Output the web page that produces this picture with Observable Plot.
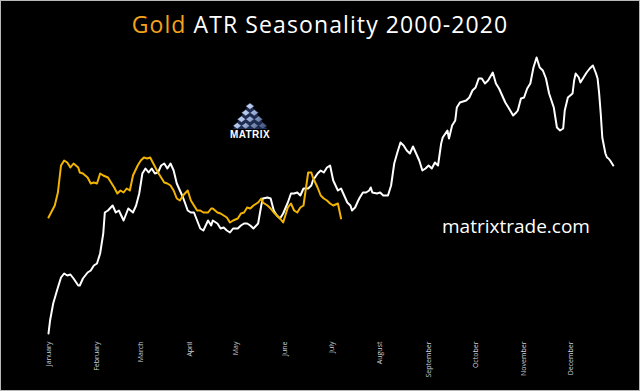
<!DOCTYPE html>
<html>
<head>
<meta charset="utf-8">
<script src="https://cdn.jsdelivr.net/npm/d3@7"></script>
<script src="https://cdn.jsdelivr.net/npm/@observablehq/plot@0.6"></script>
<style>
  html, body { margin: 0; padding: 0; background: #000; }
  #wrap { position: relative; width: 640px; height: 391px; background: #000; overflow: hidden; }
  #title { height: 50px; box-sizing: border-box; padding-top: 2px; line-height: 44px; text-align: center;
           font-family: "Open Sans", sans-serif; font-size: 23px; letter-spacing: 1.1px; color: #fff; white-space: nowrap; }
  #title .gold { color: #f5a21c; }
  #plot svg { display: block; }
  #overlay { position: absolute; left: 0; top: 0; pointer-events: none; }
  #frame { position: absolute; left: 0; top: 0; width: 640px; height: 391px; box-sizing: border-box;
           border: 1px solid #b8b8b8; pointer-events: none; }
</style>
</head>
<body>
<div id="wrap">
  <div id="title"><span class="gold">Gold</span> ATR Seasonality 2000-2020</div>
  <div id="plot"></div>
  <svg id="overlay" width="640" height="391" viewBox="0 0 640 391">
    <defs>
      <linearGradient id="pyr" x1="233" y1="103" x2="267" y2="129" gradientUnits="userSpaceOnUse">
        <stop offset="0" stop-color="#f2f6ff"/>
        <stop offset="0.45" stop-color="#a9bfe6"/>
        <stop offset="1" stop-color="#34466f"/>
      </linearGradient>
    </defs>
    <g id="logo"></g>
    <text x="250" y="138" text-anchor="middle" fill="#fff" font-family="Liberation Sans, Arial, sans-serif"
          font-weight="bold" font-size="10" letter-spacing="0.4">MATRIX</text>
    <text x="516" y="233" text-anchor="middle" fill="#fff" font-family="Open Sans, sans-serif" font-size="19">matrixtrade.com</text>
  </svg>
  <div id="frame"></div>
</div>
<script>
// Month labels and the day of year each month starts
const monthNames = ["January","February","March","April","May","June","July","August","September","October","November","December"];
const monthStartDay = [0,31,59,90,120,151,181,212,243,273,304,334];

// Average ATR seasonality 2000-2020 (white line): day of year and index value
const allDays = [0,1,3,6,8,10,12,14,16,19,20,22,25,27,29,31,33,35,36,38,41,43,45,48,51,54,56,58,60,62,64,66,68,70,72,74,76,78,80,82,84,86,89,91,93,95,97,99,102,104,105,108,110,112,114,116,118,121,123,125,127,129,131,134,136,137,140,142,144,146,148,150,153,155,157,159,161,163,166,168,169,172,174,176,178,180,182,185,187,189,191,193,194,196,198,199,201,203,205,206,207,210,212,214,217,219,221,223,225,227,229,231,233,235,237,239,241,243,245,247,249,251,252,255,256,258,260,261,263,267,269,271,273,275,277,279,281,284,286,288,290,292,294,297,299,300,302,304,306,308,310,312,314,316,318,320,323,325,327,329,330,332,335,336,337,339,340,342,344,346,348,350,351,352,353,354,356,357,358,359,361];
const allValues = [12,25,42,58,68,72,70,71,67,60,60,67,73,75,80,82,92,112,133,135,140,133,135,125,137,133,140,152,172,177,173,177,172,173,180,182,177,182,175,162,155,148,135,133,133,125,117,115,125,120,125,122,117,118,115,113,117,117,120,122,122,120,117,122,140,147,148,147,135,130,127,132,143,152,152,153,150,157,157,160,165,172,175,173,178,180,165,155,157,150,143,140,135,138,145,148,153,153,155,158,153,152,153,150,150,160,182,193,203,200,195,192,199,192,185,175,177,180,177,183,180,202,208,215,207,220,225,238,243,245,248,255,258,267,267,262,265,273,262,257,250,243,238,230,233,235,247,248,257,262,278,288,278,275,267,252,238,218,215,217,235,248,252,265,272,268,263,268,273,277,280,272,267,252,232,208,192,188,187,185,180];

// Current year ATR (orange line): day of year and index value
const curDays = [0,3,4,6,8,10,12,14,16,19,20,22,25,27,29,31,33,35,38,40,42,44,46,48,50,52,54,57,59,61,63,65,67,70,72,74,76,78,80,82,84,86,89,91,93,95,97,99,102,104,105,108,110,112,114,116,118,121,123,125,127,129,131,134,136,137,140,142,144,146,148,150,153,155,157,159,161,163,166,168,169,172,174,176,178,180,182,185,187];
const curValues = [128,137,140,153,180,185,183,178,182,178,173,172,168,162,163,162,172,170,168,163,158,152,155,153,157,155,170,180,185,188,187,188,182,173,168,163,162,160,155,147,145,150,155,145,140,135,135,133,133,137,137,133,132,130,128,123,125,127,132,133,138,137,140,143,147,143,140,137,133,130,127,123,138,142,135,133,138,140,173,173,168,158,150,147,145,142,140,142,127];

const allSeries = allDays.map((d, i) => ({day: d, value: allValues[i]}));
const curSeries = curDays.map((d, i) => ({day: d, value: curValues[i]}));

const chart = Plot.plot({
  width: 640,
  height: 341,
  marginLeft: 48,
  marginRight: 21,
  marginTop: 5,
  marginBottom: 46,
  style: {background: "#000", color: "#cfd3dc", fontFamily: "Open Sans, sans-serif", fontSize: "7px"},
  x: {domain: [0, 365]},
  y: {domain: [0, 290], axis: null},
  marks: [
    Plot.axisX({
      ticks: monthStartDay,
      tickFormat: d => monthNames[monthStartDay.indexOf(d)],
      tickRotate: -90,
      tickSize: 0,
      tickPadding: 0,
      dy: -4,
      label: null,
      fill: "#cfd3dc"
    }),
    Plot.line(allSeries, {x: "day", y: "value", stroke: "#ffffff", strokeWidth: 2, strokeLinejoin: "round", curve: "linear"}),
    Plot.line(curSeries, {x: "day", y: "value", stroke: "#f2b400", strokeWidth: 2, strokeLinejoin: "round", curve: "linear"})
  ]
});
document.getElementById("plot").appendChild(chart);

// MATRIX pyramid logo (decoration): a triangle of diamond tiles
const logo = d3.select("#logo");
logo.append("polygon").attr("points", "250,103 233,129 267,129").attr("fill", "#1e2c52");
const hw = 4.25, hh = 3.25;
for (let k = 0; k < 4; k++) {
  for (let j = 0; j <= k; j++) {
    const cx = 250 + (j - k / 2) * 2 * hw;
    const cy = 103 + hh + k * 2 * hh;
    logo.append("polygon")
      .attr("points", `${cx},${cy - hh} ${cx + hw},${cy} ${cx},${cy + hh} ${cx - hw},${cy}`)
      .attr("fill", "url(#pyr)")
      .attr("stroke", "#0d1530")
      .attr("stroke-width", 0.5);
  }
}
</script>
</body>
</html>
